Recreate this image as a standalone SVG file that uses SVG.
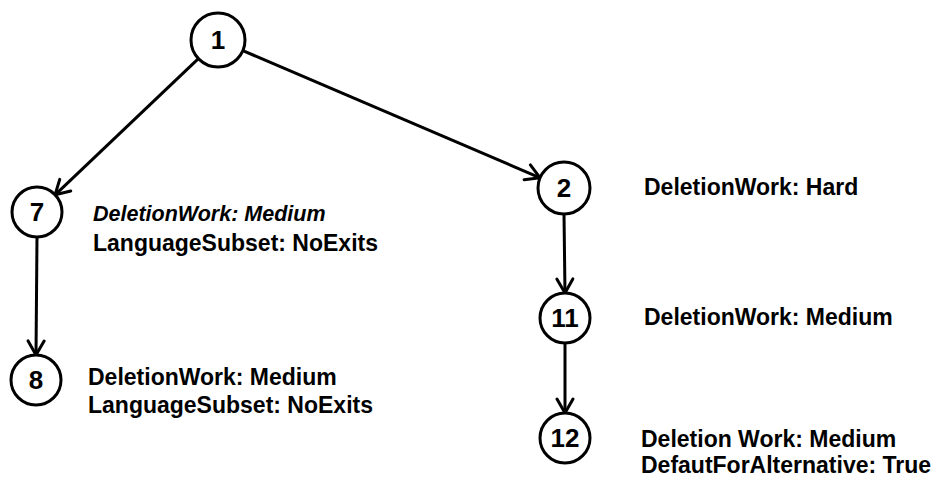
<svg xmlns="http://www.w3.org/2000/svg" width="944" height="478" viewBox="0 0 944 478">
  <style>
    .node circle { fill: #ffffff; stroke: #000000; stroke-width: 3; }
    .num { font-family: "Liberation Sans", Arial, sans-serif; font-weight: bold; font-size: 26px; text-anchor: middle; fill: #000000; }
    .lbl { font-family: "Liberation Sans", Arial, sans-serif; font-weight: bold; font-size: 23px; fill: #000000; }
    .it { font-style: italic; font-size: 21.5px; }
    .edge { stroke: #000000; stroke-width: 3; fill: none; marker-end: url(#arrow); }
  </style>
  <defs>
    <marker id="arrow" markerUnits="userSpaceOnUse" markerWidth="24" markerHeight="24" refX="18" refY="10" orient="auto">
      <path d="M4,2 L18,10 L4,18" fill="none" stroke="#000000" stroke-width="3" stroke-linecap="round" stroke-linejoin="round"/>
    </marker>
  </defs>

  <g id="edges">
    <line class="edge" x1="198.4" y1="58.6" x2="55.1" y2="194.8"/>
    <line class="edge" x1="242.8" y1="50.6" x2="540.1" y2="177.8"/>
    <line class="edge" x1="37" y1="237" x2="36" y2="355"/>
    <line class="edge" x1="564" y1="214" x2="565" y2="293"/>
    <line class="edge" x1="565" y1="343" x2="565" y2="413"/>
  </g>

  <g id="node1" class="node">
    <circle cx="218" cy="40" r="27"/>
    <text class="num" x="218" y="49">1</text>
  </g>
  <g id="node7" class="node">
    <circle cx="37" cy="212" r="25"/>
    <text class="num" x="37" y="221">7</text>
    <text class="lbl it" x="93" y="221">DeletionWork: Medium</text>
    <text class="lbl" x="93" y="251">LanguageSubset: NoExits</text>
  </g>
  <g id="node8" class="node">
    <circle cx="36" cy="380" r="25"/>
    <text class="num" x="36" y="389">8</text>
    <text class="lbl" x="88" y="385">DeletionWork: Medium</text>
    <text class="lbl" x="88" y="413">LanguageSubset: NoExits</text>
  </g>
  <g id="node2" class="node">
    <circle cx="564" cy="188" r="26"/>
    <text class="num" x="564" y="197">2</text>
    <text class="lbl" x="644" y="195">DeletionWork: Hard</text>
  </g>
  <g id="node11" class="node">
    <circle cx="565" cy="318" r="25"/>
    <text class="num" x="565" y="327">11</text>
    <text class="lbl" x="644" y="325">DeletionWork: Medium</text>
  </g>
  <g id="node12" class="node">
    <circle cx="565" cy="438" r="25"/>
    <text class="num" x="565" y="447">12</text>
    <text class="lbl" x="641" y="447">Deletion Work: Medium</text>
    <text class="lbl" x="641" y="473">DefautForAlternative: True</text>
  </g>
</svg>
